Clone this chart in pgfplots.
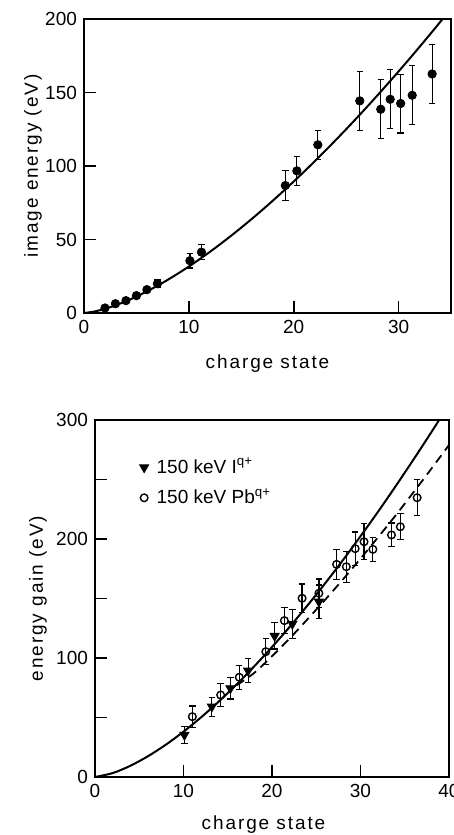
\documentclass[border=0pt]{standalone}
\usepackage{fontspec}
\setmainfont{Liberation Sans}
\usepackage{pgfplots}
\pgfplotsset{compat=1.18}
\newcommand{\lblfont}{\fontsize{9.5}{11}\selectfont\addfontfeatures{LetterSpace=10}}
\newcommand{\tckfont}{\fontsize{9.5}{11}\selectfont}
\pgfplotsset{
  legimg/.style={legend image code/.code={\draw[mark repeat=2,mark phase=2,##1,only marks] plot coordinates {(0cm,0cm)(0.1cm,0cm)(0.2cm,0cm)};}},
  myaxis/.style={
    scale only axis, anchor=south west,
    axis line style={line width=1pt},
    every tick/.style={line width=0.8pt, black},
    tick align=inside,
    major tick length=6pt, minor tick length=6pt,
    xtick pos=left, ytick pos=left,
    tick label style={font=\tckfont},
    /pgf/number format/assume math mode=true,
    label style={font=\lblfont},
    error bars/error bar style={line width=0.6pt},
    error bars/error mark options={rotate=90, mark size=1.6pt, line width=0.6pt},
  }
}
\begin{document}
\begin{tikzpicture}[x=1pt,y=1pt]
\useasboundingbox (0,0) rectangle (227,417.5);
% ---------------- top panel ----------------
\begin{axis}[myaxis,
  at={(42pt,261pt)}, width=183.5pt, height=147pt,
  xmin=0, xmax=35, ymin=0, ymax=200,
  xtick={0,10,20,30}, ytick={0,50,100,150,200},
  xlabel={charge state}, ylabel={image energy (eV)},
  xlabel style={at={(axis description cs:0.5,-0.1735)}, anchor=center},
  ylabel style={at={(axis description cs:-0.139,0.5)}, anchor=center, rotate=0},
]
\addplot[line width=1pt, smooth, no marks] coordinates {
(0,0)(1,1)(2,2.83)(3,5.20)(4,8)(5,11.18)(6,14.70)(7,18.52)(8,22.63)(9,27)
(10,31.62)(11,36.48)(12,41.57)(13,46.87)(14,52.38)(15,58.09)(16,64)(17,70.09)
(18,76.37)(19,82.82)(20,89.44)(21,96.23)(22,103.19)(23,110.30)(24,117.58)
(25,125)(26,132.57)(27,140.30)(28,148.16)(29,156.17)(30,164.32)(31,172.60)
(32,181.02)(33,189.57)(34,198.25)(35,207.06)};
\addplot[only marks, mark=*, mark size=2.1pt, black,
  error bars/.cd, y dir=both, y explicit] coordinates {
(2,3.4) +- (0,0)
(3,6.3) +- (0,0)
(4,8.4) +- (0,0)
(5,11.8) +- (0,0)
(6,15.9) +- (0,1.5)
(7,19.9) +- (0,2.5)
(10.1,35.6) +- (0,5)
(11.2,41.4) +- (0,5)
(19.2,86.7) +- (0,10)
(20.3,96.7) +- (0,10)
(22.3,114.4) +- (0,10)
(26.3,144.3) +- (0,20)
(28.3,138.6) +- (0,20)
(29.2,145.4) +- (0,20)
(30.2,142.5) +- (0,20)
(31.3,148.1) +- (0,20)
(33.2,162.6) +- (0,20)};
\end{axis}
% ---------------- bottom panel ----------------
\begin{axis}[myaxis,
  at={(47.5pt,29pt)}, width=177pt, height=178.5pt,
  xmin=0, xmax=40, ymin=0, ymax=300,
  xtick={0,10,20,30,40}, ytick={0,100,200,300}, minor ytick={50,150,250},
  xlabel={charge state}, ylabel={energy gain (eV)},
  xlabel style={at={(axis description cs:0.476,-0.1345)}, anchor=center},
  ylabel style={at={(axis description cs:-0.161,0.5)}, anchor=center, rotate=0},
  legend style={at={(0.125,0.905)}, anchor=north west, draw=none, fill=none,
    font=\tckfont, row sep=2pt, inner sep=0pt, nodes={inner xsep=4pt}},
  legend cell align=left,
]
\addplot[line width=1pt, smooth, no marks, forget plot] coordinates {
(0,0)(2,3.30)(4,9.46)(6,17.52)(8,27.13)(10,38.08)(12,50.24)(14,63.50)(16,77.80)
(18,93.05)(20,109.2)(22,126.2)(24,144.1)(26,162.7)(28,182.1)(30,202.3)(32,223.1)
(34,244.7)(36,266.9)(38,289.7)(39,301.4)};
\addplot[line width=0.9pt, smooth, no marks, dash pattern=on 4.5pt off 3pt, forget plot] coordinates {
(16,77)(18,87.5)(20,101.5)(22,116.5)(24,132.5)(26,148.9)(28,165.9)(30,183.5)
(32,201.6)(34,220.1)(36,239.4)(38,259.0)(40,279.0)};
\addplot[only marks, mark=triangle*, mark size=2.6pt, black, mark options={rotate=180},
  legimg, error bars/.cd, y dir=both, y explicit] coordinates {
(10.1,35.3) +- (0,7)
(13.2,59.1) +- (0,8)
(15.3,74.5) +- (0,9)
(17.3,89.3) +- (0,10)
(20.3,118.5) +- (0,11)
(22.3,128.6) +- (0,12)
(25.3,147.3) +- (0,14)};
\addlegendentry{150 keV {\rmfamily I}\textsuperscript{q+}}
\addplot[only marks, mark=o, mark size=1.9pt, black, mark options={fill=white, line width=0.7pt},
  legimg, error bars/.cd, y dir=both, y explicit] coordinates {
(11.0,50.7) +- (0,9)
(14.2,68.9) +- (0,9.5)
(16.3,83.8) +- (0,10)
(19.3,105.3) +- (0,11)
(21.4,131.4) +- (0,11)
(23.4,150.2) +- (0,12)
(25.3,154.4) +- (0,12)
(27.3,178.7) +- (0,12.5)
(28.4,176.7) +- (0,13)
(29.4,191.9) +- (0,14)
(30.4,197.7) +- (0,15)
(31.4,191.3) +- (0,10)
(33.5,203.4) +- (0,10)
(34.5,210.3) +- (0,11)
(36.4,234.7) +- (0,15)};
\addlegendentry{150 keV Pb\textsuperscript{q+}}
\end{axis}
\end{tikzpicture}
\end{document}
